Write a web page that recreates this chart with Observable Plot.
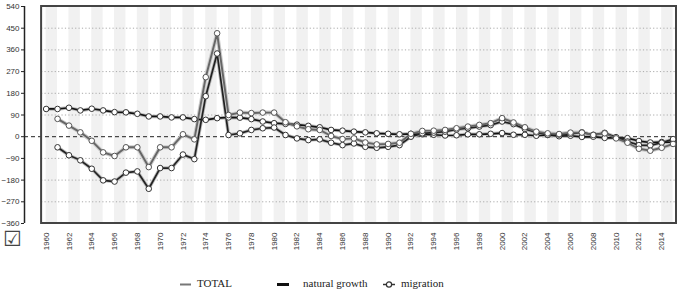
<!DOCTYPE html>
<html><head><meta charset="utf-8">
<script src="https://cdn.jsdelivr.net/npm/d3@7"></script>
<script src="https://cdn.jsdelivr.net/npm/@observablehq/plot@0.6"></script>
<style>
body{margin:0;background:#fff;}
#wrap{position:relative;width:680px;height:294px;overflow:hidden;font-family:"Liberation Sans",Arial,sans-serif;}
#chart svg{display:block;overflow:visible;}
.lgtxt{position:absolute;font-family:"Liberation Serif","DejaVu Serif",serif;font-size:11px;color:#222;top:277px;white-space:nowrap;}
.sym{position:absolute;}
#check{position:absolute;left:3px;top:229px;font-family:"DejaVu Sans";font-size:21px;color:#444;line-height:1;}
</style></head><body>
<div id="wrap">
<div id="chart"></div>
<svg class="sym" style="left:176px;top:278px" width="20" height="12"><line x1="4" x2="15" y1="6.5" y2="6.5" stroke="#777" stroke-width="2"/></svg>
<span class="lgtxt" style="left:197px">TOTAL</span>
<svg class="sym" style="left:274px;top:278px" width="20" height="12"><line x1="3" x2="15" y1="6.5" y2="6.5" stroke="#111" stroke-width="3"/></svg>
<span class="lgtxt" style="left:303px">natural growth</span>
<svg class="sym" style="left:380px;top:278px" width="20" height="12"><line x1="3" x2="15" y1="6.5" y2="6.5" stroke="#333" stroke-width="1.5"/><circle cx="9" cy="6.5" r="2.6" fill="#fff" stroke="#333" stroke-width="1.2"/></svg>
<span class="lgtxt" style="left:401px">migration</span>
<span id="check">☑</span>
</div>
<script>
const natYears = [1960,1961,1962,1963,1964,1965,1966,1967,1968,1969,1970,1971,1972,1973,1974,1975,1976,1977,1978,1979,1980,1981,1982,1983,1984,1985,1986,1987,1988,1989,1990,1991,1992,1993,1994,1995,1996,1997,1998,1999,2000,2001,2002,2003,2004,2005,2006,2007,2008,2009,2010,2011,2012,2013,2014,2015];
const natural = [115,115,120,109,116,109,102,101,95,84, 84,80,80,73,70,77,80,79,73,63, 56,53,50,45,39,28,25,21,18,14, 12,10,12,10,8,5,6,10,10,12, 15,8,8,4,7,2,4,-1,0,-5, -5,-6,-18,-24,-22,-23];
const migYears = [1961,1962,1963,1964,1965,1966,1967,1968,1969,1970,1971,1972,1973,1974,1975,1976,1977,1978,1979,1980,1981,1982,1983,1984,1985,1986,1987,1988,1989,1990,1991,1992,1993,1994,1995,1996,1997,1998,1999,2000,2001,2002,2003,2004,2005,2006,2007,2008,2009,2010,2011,2012,2013,2014,2015];
const migration = [-44,-77,-98,-133,-181,-186,-149,-144,-216, -130,-130,-74,-93,168,345,7,14,28,35, 38,7,-7,-14,-11,-25,-35,-28,-42,-46, -42,-35,0,14,17,21,30,35,42,48, 63,52,32,18,8,9,12,18,8,16, -2,-20,-35,-36,-25,-10];
const total = [74,46,18,-17,-65,-80,-44,-44,-126, -44,-44,10,-11,247,429,90,100,98,100, 100,60,43,31,28,3,-10,-7,-24,-32, -30,-25,12,24,25,28,35,42,49,56, 77,59,39,21,14,11,17,17,7,14, -7,-25,-50,-58,-46,-30];
const yTicks = [-360,-270,-180,-90,0,90,180,270,360,450,540];
const gridTicks = [-270,-180,-90,90,180,270,360,450];
const xTicks = [1960,1962,1964,1966,1968,1970,1972,1974,1976,1978,1980,1982,1984,1986,1988,1990,1992,1994,1996,1998,2000,2002,2004,2006,2008,2010,2012,2014];
const stripeYears = xTicks;
const xStart = 1958.1, frameL = 1959.6, frameR = 2015.3;

const natData = natYears.map((y,i)=>({year:y, v:natural[i]}));
const migData = migYears.map((y,i)=>({year:y, v:migration[i]}));
const totData = migYears.map((y,i)=>({year:y, v:total[i]}));

const chart = Plot.plot({
  width: 680, height: 262,
  marginLeft: 24, marginRight: 4, marginTop: 6, marginBottom: 39,
  x: {domain: [xStart, frameR], axis: null, label: null},
  y: {domain: [-360, 540], axis: null, label: null},
  style: {fontFamily: "'Liberation Sans', Arial, sans-serif", fontSize: "8px", color: "#333", background: "#fff", overflow: "visible"},
  marks: [
    Plot.rect(stripeYears, {x1: d => d, x2: d => Math.min(d + 1, frameR), y1: -360, y2: 540, fill: "#f1f1f1"}),
    Plot.ruleY(gridTicks, {x1: frameL, x2: frameR, stroke: "#aaa", strokeWidth: 1, strokeDasharray: "1.2,2.2"}),
    Plot.ruleY([0], {stroke: "#222", strokeWidth: 1, strokeDasharray: "4,3"}),
    Plot.rect([0], {x1: frameL, x2: frameR, y1: -360, y2: 540, fill: "none", stroke: "#444", strokeWidth: 2}),
    Plot.ruleX([xStart], {y1: -360, y2: 540, stroke: "#222", strokeWidth: 1.5}),
    Plot.axisY({ticks: yTicks, label: null, tickSize: 3, tickPadding: 2, stroke: "#222", fill: "#333"}),
    Plot.axisX({ticks: xTicks, label: null, tickFormat: d => String(d), tickRotate: -90, tickSize: 0, tickPadding: 9, fill: "#333"}),
    Plot.line(natData, {x: "year", y: "v", stroke: "#bbb", strokeWidth: 3.5}),
    Plot.line(migData, {x: "year", y: "v", stroke: "#bbb", strokeWidth: 3.5}),
    Plot.line(totData, {x: "year", y: "v", stroke: "#ccc", strokeWidth: 4}),
    Plot.line(natData, {x: "year", y: "v", stroke: "#111", strokeWidth: 1.7}),
    Plot.line(migData, {x: "year", y: "v", stroke: "#222", strokeWidth: 1.7}),
    Plot.line(totData, {x: "year", y: "v", stroke: "#666", strokeWidth: 1.9}),
    Plot.dot(natData, {x: "year", y: "v", r: 2.8, fill: "#fff", stroke: "#333", strokeWidth: 1}),
    Plot.dot(migData, {x: "year", y: "v", r: 2.8, fill: "#fff", stroke: "#333", strokeWidth: 1}),
    Plot.dot(totData, {x: "year", y: "v", r: 2.8, fill: "#fff", stroke: "#555", strokeWidth: 1})
  ]
});
document.getElementById("chart").appendChild(chart);
</script>
</body></html>
